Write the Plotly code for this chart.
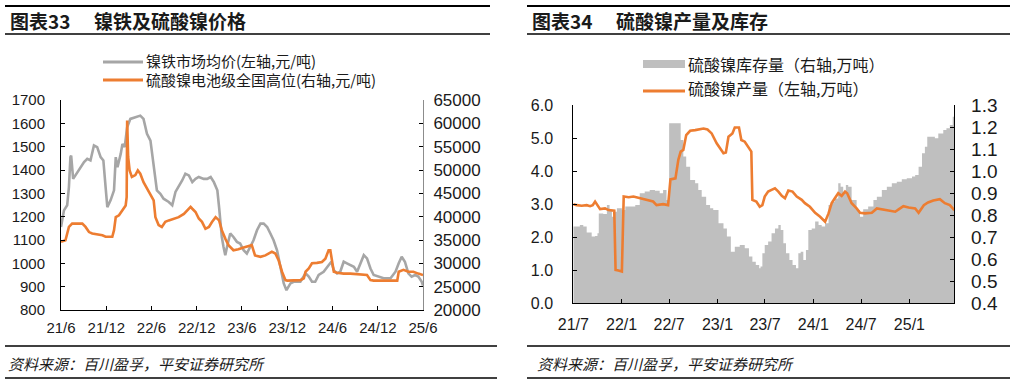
import plotly.graph_objects as go

W, H = 1017, 383

# ---------------- Left chart data ----------------
NF_DATES = ["2021-06-01","2021-06-13","2021-06-26","2021-07-03","2021-07-09","2021-07-12","2021-07-20","2021-07-29","2021-08-12","2021-09-02",
            "2021-09-15","2021-09-28","2021-10-12","2021-10-25","2021-11-08","2021-11-19","2021-11-28","2021-12-05","2021-12-18","2022-01-01",
            "2022-01-08","2022-01-15","2022-01-28","2022-02-04","2022-02-13","2022-02-23","2022-03-08","2022-03-28","2022-04-17","2022-04-30",
            "2022-05-14","2022-05-28","2022-06-10","2022-06-23","2022-07-07","2022-07-20","2022-08-10","2022-08-24","2022-09-06","2022-09-19",
            "2022-10-03","2022-10-16","2022-10-30","2022-11-13","2022-11-26","2022-12-09","2022-12-29","2023-01-12","2023-01-26","2023-02-08",
            "2023-02-22","2023-03-01","2023-03-12","2023-03-19","2023-03-26","2023-04-02","2023-04-15","2023-04-28","2023-05-12","2023-05-25",
            "2023-06-08","2023-06-21","2023-07-05","2023-07-18","2023-08-01","2023-08-15","2023-08-28","2023-09-11","2023-09-24","2023-10-07",
            "2023-10-21","2023-11-03","2023-11-17","2023-11-28","2023-12-14","2023-12-27","2024-01-23","2024-02-13","2024-02-26","2024-03-10",
            "2024-03-23","2024-04-06","2024-04-26","2024-05-16","2024-05-27","2024-06-06","2024-06-19","2024-07-02","2024-07-16","2024-07-29",
            "2024-08-12","2024-08-26","2024-09-08","2024-09-21","2024-10-05","2024-10-18","2024-11-01","2024-11-14","2024-12-04","2024-12-24",
            "2025-01-21","2025-02-10","2025-02-23","2025-03-07","2025-03-20","2025-04-03","2025-04-16","2025-04-30","2025-05-13","2025-05-27",
            "2025-06-01"]
NF_PRICE = [1156,1227,1249,1327,1455,1462,1362,1377,1398,1434,
            1448,1441,1505,1498,1455,1441,1327,1241,1270,1313,
            1455,1412,1469,1512,1498,1583,1619,1626,1633,1619,
            1555,1526,1427,1313,1298,1277,1263,1249,1306,1327,
            1355,1384,1377,1348,1362,1370,1362,1362,1370,1348,
            1313,1241,1113,1070,1035,1070,1128,1113,1092,1085,
            1056,1042,1070,1099,1142,1170,1170,1156,1128,1099,
            1056,985,914,885,914,921,921,957,943,921,
            921,950,964,992,1007,971,957,964,1007,1000,
            992,985,964,1000,1035,1021,978,950,943,936,
            936,964,1000,1028,1007,957,943,950,943,921,
            905]

NS_DATES = ["2021-06-01","2021-06-19","2021-07-03","2021-07-16","2021-08-05","2021-08-26","2021-09-08","2021-09-22","2021-10-05","2021-10-25",
            "2021-11-15","2021-11-28","2021-12-25","2022-01-01","2022-01-08","2022-01-21","2022-02-04","2022-02-17","2022-02-21","2022-02-23",
            "2022-02-27","2022-03-05","2022-03-14","2022-03-28","2022-04-07","2022-04-17","2022-04-30","2022-05-14","2022-05-28","2022-06-10",
            "2022-06-17","2022-06-30","2022-07-13","2022-07-27","2022-08-10","2022-08-30","2022-09-19","2022-10-10","2022-10-23","2022-11-06",
            "2022-11-13","2022-11-26","2022-12-09","2022-12-22","2023-01-05","2023-01-19","2023-02-01","2023-02-15","2023-03-01","2023-03-12",
            "2023-03-26","2023-04-08","2023-04-28","2023-05-18","2023-06-08","2023-06-28","2023-07-11","2023-07-24","2023-08-15","2023-09-04",
            "2023-09-17","2023-09-30","2023-10-14","2023-10-27","2023-11-10","2023-11-24","2023-12-01","2023-12-27","2024-01-23","2024-02-06",
            "2024-02-13","2024-02-26","2024-03-10","2024-03-30","2024-04-19","2024-05-03","2024-05-16","2024-05-23","2024-05-30","2024-06-06",
            "2024-06-19","2024-07-16","2024-08-12","2024-09-21","2024-10-18","2024-11-01","2024-11-14","2024-12-24","2025-02-17","2025-02-23",
            "2025-03-14","2025-04-03","2025-04-23","2025-05-13","2025-06-01"]
NS_PRICE = [34600,34950,37800,38500,38500,38500,37800,36700,36400,36200,
            36000,35700,35700,37100,39900,40300,41400,42400,44200,60600,
            52800,49900,48500,48900,49900,49200,47400,46000,44600,43500,
            39900,38200,37800,38900,39200,39600,39900,40600,41400,42100,
            41700,41000,39600,38900,37400,37800,38900,39900,39200,37100,
            35300,33900,32800,33000,33400,33700,33900,31700,31400,31700,
            32100,32500,32100,30700,28200,26400,26300,26300,26400,26800,
            28200,28900,30000,30100,30300,31000,32800,32800,30700,28200,
            28000,27800,27800,27700,27500,26400,26300,26300,26300,28200,
            28600,28200,28200,27800,27500]

L_TICKVALS = ["2021-06-01","2021-12-01","2022-06-01","2022-12-01","2023-06-01","2023-12-01","2024-06-01","2024-12-01","2025-06-01"]
L_TICKTEXT = ["21/6","21/12","22/6","22/12","23/6","23/12","24/6","24/12","25/6"]

# ---------------- Right chart data ----------------
PR_DATES = ["2021-07-01","2021-07-14","2021-08-02","2021-08-21","2021-09-03","2021-09-13","2021-09-22","2021-10-01","2021-10-11","2021-10-30",
            "2021-11-12","2021-12-04","2021-12-09","2021-12-20","2022-01-02","2022-01-09","2022-01-28","2022-02-15","2022-03-11","2022-04-06",
            "2022-05-01","2022-05-14","2022-06-08","2022-06-27","2022-07-06","2022-07-25","2022-08-05","2022-08-14","2022-08-24","2022-09-04",
            "2022-09-19","2022-10-08","2022-10-27","2022-11-09","2022-11-24","2022-12-10","2022-12-29","2023-01-11","2023-01-24","2023-02-02",
            "2023-02-12","2023-02-27","2023-03-08","2023-03-24","2023-04-02","2023-04-15","2023-04-28","2023-05-10","2023-05-14","2023-05-29",
            "2023-06-11","2023-06-21","2023-06-30","2023-07-13","2023-07-26","2023-08-08","2023-08-21","2023-09-03","2023-09-15","2023-09-28",
            "2023-10-14","2023-10-30","2023-11-18","2023-11-30","2023-12-19","2024-01-08","2024-01-27","2024-02-15","2024-02-28","2024-03-11",
            "2024-03-23","2024-04-05","2024-04-18","2024-05-01","2024-05-09","2024-05-26","2024-06-14","2024-06-27","2024-07-16","2024-08-11",
            "2024-08-30","2024-09-18","2024-10-07","2024-11-08","2024-11-21","2024-12-09","2024-12-29","2025-01-23","2025-02-05","2025-02-25",
            "2025-03-13","2025-04-02","2025-04-27","2025-05-16","2025-06-04","2025-06-21"]
PRODUCTION = [3.00,2.97,2.95,2.97,2.94,2.97,3.08,2.97,2.85,2.87,
              2.82,2.80,1.01,0.99,0.96,3.23,3.21,3.23,3.18,3.13,
              3.08,2.97,3.00,2.97,3.75,3.78,4.34,4.59,4.64,5.09,
              5.22,5.24,5.26,5.29,5.26,5.14,4.84,4.69,4.54,4.56,
              5.04,5.14,5.32,5.32,4.94,4.89,4.74,4.59,3.13,3.08,
              2.92,2.97,3.23,3.38,3.43,3.48,3.38,3.25,3.18,3.41,
              3.38,3.23,3.13,3.03,2.92,2.74,2.62,2.47,2.72,3.03,
              3.18,3.33,3.25,3.38,3.33,3.03,2.87,2.74,2.72,2.74,
              2.87,2.84,2.80,2.77,2.84,2.94,2.90,2.87,2.74,2.97,
              3.05,3.11,3.15,3.03,2.97,2.82]

INV_DATES = ["2021-07-01","2021-07-14","2021-07-26","2021-08-08","2021-08-21","2021-09-09","2021-09-22","2021-10-01","2021-10-06","2021-10-23",
             "2021-11-06","2021-11-16","2021-11-25","2021-12-04","2021-12-14","2022-01-02","2022-01-15","2022-02-03","2022-02-22","2022-03-11",
             "2022-03-30","2022-04-18","2022-05-08","2022-05-26","2022-06-08","2022-06-21","2022-07-01","2022-07-16","2022-08-05","2022-08-14",
             "2022-08-24","2022-09-04","2022-09-19","2022-10-08","2022-10-20","2022-11-02","2022-11-19","2022-12-04","2022-12-16","2023-01-05",
             "2023-01-24","2023-02-06","2023-02-21","2023-03-08","2023-03-27","2023-04-15","2023-05-01","2023-05-14","2023-05-27","2023-06-09",
             "2023-06-14","2023-06-21","2023-06-30","2023-07-13","2023-07-26","2023-08-08","2023-08-21","2023-08-30","2023-09-09","2023-09-19",
             "2023-10-02","2023-10-14","2023-10-27","2023-11-05","2023-11-14","2023-11-24","2023-12-04","2023-12-13","2023-12-26","2024-01-08",
             "2024-01-21","2024-02-02","2024-02-15","2024-02-28","2024-03-11","2024-03-23","2024-04-05","2024-04-14","2024-04-24","2024-05-04",
             "2024-05-13","2024-05-26","2024-06-14","2024-06-27","2024-07-09","2024-07-28","2024-08-17","2024-08-30","2024-09-18","2024-10-07",
             "2024-10-26","2024-11-14","2024-12-03","2024-12-22","2025-01-11","2025-01-23","2025-02-05","2025-02-18","2025-03-01","2025-03-10",
             "2025-03-26","2025-04-08","2025-04-21","2025-05-10","2025-05-22","2025-06-04","2025-06-15","2025-06-21"]
INVENTORY = [0.748,0.748,0.755,0.748,0.721,0.703,0.706,0.718,0.808,0.805,
             0.846,0.824,0.793,0.816,0.831,0.824,0.839,0.839,0.846,0.899,
             0.907,0.914,0.911,0.899,0.914,0.869,1.217,1.217,1.217,1.141,
             1.066,1.020,0.960,0.945,0.914,0.884,0.846,0.831,0.824,0.763,
             0.740,0.703,0.634,0.657,0.665,0.650,0.612,0.589,0.574,0.559,
             0.567,0.627,0.665,0.680,0.718,0.740,0.755,0.733,0.672,0.627,
             0.597,0.574,0.559,0.627,0.634,0.597,0.642,0.733,0.740,0.771,
             0.755,0.748,0.763,0.846,0.861,0.876,0.945,0.929,0.899,0.937,
             0.929,0.869,0.824,0.793,0.827,0.839,0.869,0.884,0.914,0.929,
             0.945,0.952,0.963,0.967,0.975,0.982,1.020,1.081,1.111,1.156,
             1.156,1.149,1.171,1.187,1.194,1.209,1.247,1.255]

R_TICKVALS = ["2021-07-01","2022-01-01","2022-07-01","2023-01-01","2023-07-01","2024-01-01","2024-07-01","2025-01-01"]
R_TICKTEXT = ["21/7","22/1","22/7","23/1","23/7","24/1","24/7","25/1"]

TITLE_L_NO, TITLE_L = "图表33", "镍铁及硫酸镍价格"
TITLE_R_NO, TITLE_R = "图表34", "硫酸镍产量及库存"
LEG_L = ["镍铁市场均价(左轴,元/吨)", "硫酸镍电池级全国高位(右轴,元/吨)"]
LEG_R = ["硫酸镍库存量（右轴,万吨）", "硫酸镍产量（左轴,万吨）"]
SOURCE = "资料来源：百川盈孚，平安证券研究所"

GRAY_LINE = "#A6A6A6"
ORANGE = "#ED7D31"
AREA = "#BFBFBF"
TXT = "#1a1a1a"
FONT = "Liberation Sans, Arial, Noto Sans CJK SC, sans-serif"
CJK = "Noto Sans CJK SC, Liberation Sans, sans-serif"

def fx(p):
    return p / W

def fy(p):
    return 1 - p / H

fig = go.Figure()

# left chart: gray on primary (left) axis, orange on overlaying right axis (drawn on top)
fig.add_trace(go.Scatter(x=NF_DATES, y=NF_PRICE, mode="lines", line=dict(color=GRAY_LINE, width=2.6),
                         xaxis="x", yaxis="y", showlegend=False))
fig.add_trace(go.Scatter(x=NS_DATES, y=NS_PRICE, mode="lines", line=dict(color=ORANGE, width=2.6),
                         xaxis="x", yaxis="y2", showlegend=False))
# right chart: inventory area on primary (right-side) axis y3, production line on overlaying left axis y4
fig.add_trace(go.Scatter(x=INV_DATES, y=INVENTORY, mode="lines", line=dict(color=AREA, width=0, shape="hv"),
                         fill="tozeroy", fillcolor=AREA, xaxis="x2", yaxis="y3", showlegend=False))
fig.add_trace(go.Scatter(x=PR_DATES, y=PRODUCTION, mode="lines", line=dict(color=ORANGE, width=2.6),
                         xaxis="x2", yaxis="y4", showlegend=False))

axis_common = dict(showgrid=False, zeroline=False, showline=True, ticks="inside", ticklen=4,
                   tickwidth=1, fixedrange=True, automargin=False)

L_dom_x = [fx(61), fx(423)]
L_dom_y = [fy(310), fy(100)]
R_dom_x = [fx(573.3), fx(954.3)]
R_dom_y = [fy(303.3), fy(105)]

fig.update_layout(
    width=W, height=H, margin=dict(l=0, r=0, t=0, b=0, pad=0, autoexpand=False),
    paper_bgcolor="white", plot_bgcolor="white", showlegend=False,
    font=dict(family=FONT, color=TXT),
    xaxis=dict(domain=L_dom_x, anchor="y", type="date", range=["2021-06-01", "2025-06-01"],
               tickvals=L_TICKVALS, ticktext=L_TICKTEXT, linecolor="#000", tickcolor="#000",
               tickfont=dict(size=15, color=TXT), ticklabelstandoff=4, **axis_common),
    yaxis=dict(domain=L_dom_y, anchor="x", range=[800, 1700], dtick=100, tick0=800,
               linecolor="#000", tickcolor="#000", tickfont=dict(size=15, color=TXT),
               ticklabelstandoff=12, **axis_common),
    yaxis2=dict(domain=L_dom_y, anchor="x", overlaying="y", side="right", range=[20000, 65000],
                dtick=5000, tick0=20000, tickformat="d", linecolor="#8c8c8c", tickcolor="#000",
                tickfont=dict(size=17, color=TXT), ticklabelstandoff=6, **axis_common),
    xaxis2=dict(domain=R_dom_x, anchor="y3", type="date", range=["2021-07-01", "2025-06-21"],
                tickvals=R_TICKVALS, ticktext=R_TICKTEXT, linecolor="#000", tickcolor="#000",
                tickfont=dict(size=16, color=TXT), ticklabelstandoff=6, **axis_common),
    yaxis3=dict(domain=R_dom_y, anchor="x2", side="right", range=[0.4, 1.3],
                dtick=0.1, tick0=0.4, tickformat=".1f", linecolor="#000", tickcolor="#000",
                tickfont=dict(size=19, color=TXT), ticklabelstandoff=12, **axis_common),
    yaxis4=dict(domain=R_dom_y, anchor="x2", overlaying="y3", side="left", range=[0, 6], dtick=1, tick0=0,
                tickformat=".1f", linecolor="#000", tickcolor="#000", tickfont=dict(size=16, color=TXT),
                ticklabelstandoff=16, **axis_common),
)

shapes = []
ann = []

def hline(x0, x1, y, w):
    shapes.append(dict(type="line", xref="paper", yref="paper", x0=fx(x0), x1=fx(x1), y0=fy(y), y1=fy(y),
                       line=dict(color="#000", width=w)))

def text(x, y, s, size, bold=False, italic=False, family=CJK):
    if bold:
        s = "<b>" + s + "</b>"
    if italic:
        s = "<i>" + s + "</i>"
    ann.append(dict(xref="paper", yref="paper", x=fx(x), y=fy(y), text=s, showarrow=False,
                    xanchor="left", yanchor="middle", font=dict(size=size, family=family, color=TXT)))

# title bars
hline(5, 490, 6, 2)
hline(5, 490, 34, 1.5)
hline(527, 1010, 6, 2)
hline(527, 1010, 34, 1.5)
text(8, 20, TITLE_L_NO, 19, bold=True)
text(92, 20, TITLE_L, 19, bold=True)
text(530, 20, TITLE_R_NO, 19, bold=True)
text(614, 20, TITLE_R, 19, bold=True)

# footer
hline(5, 497, 346, 1.5)
hline(5, 497, 378, 1.5)
hline(527, 1010, 346, 1.5)
hline(527, 1010, 378, 1.5)
text(6, 363, SOURCE, 15, italic=True)
text(535, 363, SOURCE, 15, italic=True)

# left legend
shapes.append(dict(type="line", xref="paper", yref="paper", x0=fx(103), x1=fx(143), y0=fy(62), y1=fy(62),
                   line=dict(color=GRAY_LINE, width=3)))
shapes.append(dict(type="line", xref="paper", yref="paper", x0=fx(103), x1=fx(143), y0=fy(80), y1=fy(80),
                   line=dict(color=ORANGE, width=3)))
text(144, 60, LEG_L[0], 15)
text(144, 79, LEG_L[1], 15)

# right legend
shapes.append(dict(type="rect", xref="paper", yref="paper", x0=fx(643), x1=fx(685), y0=fy(68), y1=fy(60),
                   line=dict(width=0), fillcolor=AREA))
shapes.append(dict(type="line", xref="paper", yref="paper", x0=fx(643), x1=fx(685), y0=fy(91), y1=fy(91),
                   line=dict(color=ORANGE, width=3)))
text(686, 64, LEG_R[0], 16)
text(686, 88, LEG_R[1], 16)

fig.update_layout(shapes=shapes, annotations=ann)

fig.write_html("out.html", config={"displayModeBar": False},
               post_script="document.body.style.margin='0px';document.body.style.overflow='hidden';")
